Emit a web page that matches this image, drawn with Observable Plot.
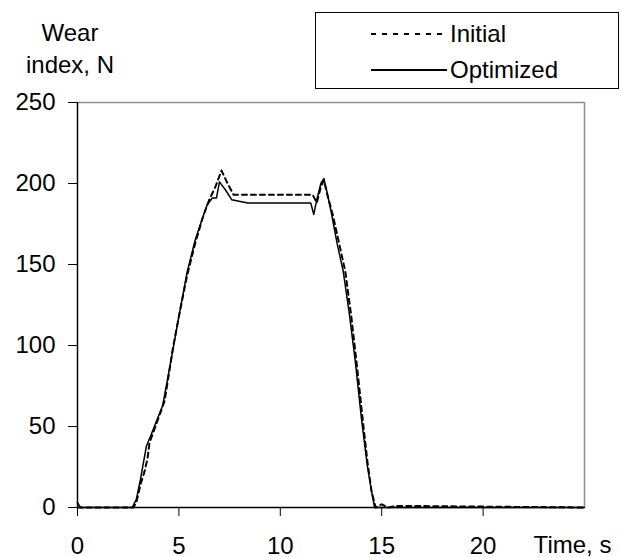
<!DOCTYPE html>
<html>
<head>
<meta charset="utf-8">
<script src="https://cdn.jsdelivr.net/npm/d3@7"></script>
<script src="https://cdn.jsdelivr.net/npm/@observablehq/plot@0.6"></script>
<style>
  body { margin: 0; background: white; }
  #wrap { position: relative; width: 621px; height: 557px; font-family: "Liberation Sans", Arial, sans-serif; color: black; }
  #chart { position: absolute; left: 0; top: 0; }
  .ytitle { position: absolute; font-size: 24px; line-height: 24px; text-align: center; white-space: nowrap; }
  #legend { position: absolute; left: 315px; top: 12px; width: 304px; height: 77px; border: 1px solid black; box-sizing: border-box; background: white; }
  .lg { position: absolute; left: 55px; height: 24px; display: flex; align-items: center; font-size: 24px; white-space: nowrap; }
  .lg svg { margin-right: 3px; }
</style>
</head>
<body>
<div id="wrap">
  <div id="chart"></div>
  <div class="ytitle" style="left:20px; top:21px; width:100px;">Wear</div>
  <div class="ytitle" style="left:20px; top:53px; width:100px;">index, N</div>
  <div id="legend"></div>
</div>
<script>
// Series names
const seriesNames = ["Initial", "Optimized"];
// Axis ticks
const xTicks = [0, 5, 10, 15, 20];
const yTicks = [0, 50, 100, 150, 200, 250];
const xLabel = "Time, s";

// Initial (dashed) series
const initialTime  = [0, 2.75, 2.9, 3.1, 3.3, 3.45, 3.55, 3.9, 4.3, 4.7, 5.0, 5.4, 5.8, 6.2, 6.5, 6.8, 7.1, 7.4, 7.7, 8.0, 11.4, 11.6, 11.8, 12.0, 12.15, 12.3, 12.6, 12.9, 13.2, 13.5, 13.8, 14.1, 14.3, 14.5, 14.7, 15.0, 15.3, 15.8, 25];
const initialValue = [0, 0,    3,   14,  22,  30,   40,   52,  66,  98,  118, 143, 163, 180, 190, 198, 208, 200, 193, 193, 193,  193,  188,  198,  202,   194,  180,  163,  146,  118,  85,   50,   28,   10,   0,    2,    0,    1,    0];

// Optimized (solid) series
const optimizedTime  = [0, 0.15, 2.7, 2.9, 3.1, 3.4, 3.6, 4.2, 4.6, 5.0, 5.4, 5.8, 6.2, 6.4, 6.65, 6.85, 7.0, 7.3, 7.6, 8.4, 11.5, 11.65, 11.8, 12.0, 12.15, 12.3, 12.5, 12.8, 13.1, 13.4, 13.7, 14.0, 14.3, 14.5, 14.65, 15, 25];
const optimizedValue = [3, 0,    0,   5,   17,  38,  44,  63,  90,  118, 145, 165, 180, 187, 191,  191,  201, 196, 190, 188, 188,  181,   190,  200,  203,   195,  183,  163,  146,  120,  90,   55,   25,   10,   0,    0,  0];

const initial = initialTime.map((t, i) => ({t, v: initialValue[i]}));
const optimized = optimizedTime.map((t, i) => ({t, v: optimizedValue[i]}));

const chart = Plot.plot({
  width: 621,
  height: 557,
  marginLeft: 77,
  marginRight: 37,
  marginTop: 102,
  marginBottom: 50,
  style: { fontFamily: "Liberation Sans, Arial, sans-serif", fontSize: "24px", background: "white", color: "black", overflow: "visible" },
  x: { domain: [0, 25], ticks: xTicks, tickSize: 9, tickPadding: 20, label: null },
  y: { domain: [0, 250], ticks: yTicks, tickSize: 9, tickPadding: 13, label: null },
  marks: [
    Plot.ruleY([250], { stroke: "#8c8c8c", strokeWidth: 1.5 }),
    Plot.ruleX([25], { stroke: "#8c8c8c", strokeWidth: 1.5 }),
    Plot.line(initial, { x: "t", y: "v", stroke: "black", strokeWidth: 2, strokeDasharray: "5,4" }),
    Plot.line(optimized, { x: "t", y: "v", stroke: "black", strokeWidth: 1.5 }),
    Plot.ruleX([0], { stroke: "black", strokeWidth: 1.5 }),
    Plot.ruleY([0], { stroke: "black", strokeWidth: 1.5 }),
    Plot.text([xLabel], { x: 25, y: 0, text: d => d, dy: 38, dx: -12, fontSize: 24, fill: "black" })
  ]
});
document.getElementById("chart").appendChild(chart);

// Legend
const legend = document.getElementById("legend");
const styles = [
  { name: seriesNames[0], dash: "5,6", top: 9 },
  { name: seriesNames[1], dash: null, top: 45 }
];
for (const s of styles) {
  const row = document.createElement("div");
  row.className = "lg";
  row.style.top = s.top + "px";
  row.innerHTML = `<svg width="76" height="10"><line x1="0" x2="76" y1="5" y2="5" stroke="black" stroke-width="2" ${s.dash ? `stroke-dasharray="${s.dash}"` : ""}/></svg><span>${s.name}</span>`;
  legend.appendChild(row);
}
</script>
</body>
</html>
